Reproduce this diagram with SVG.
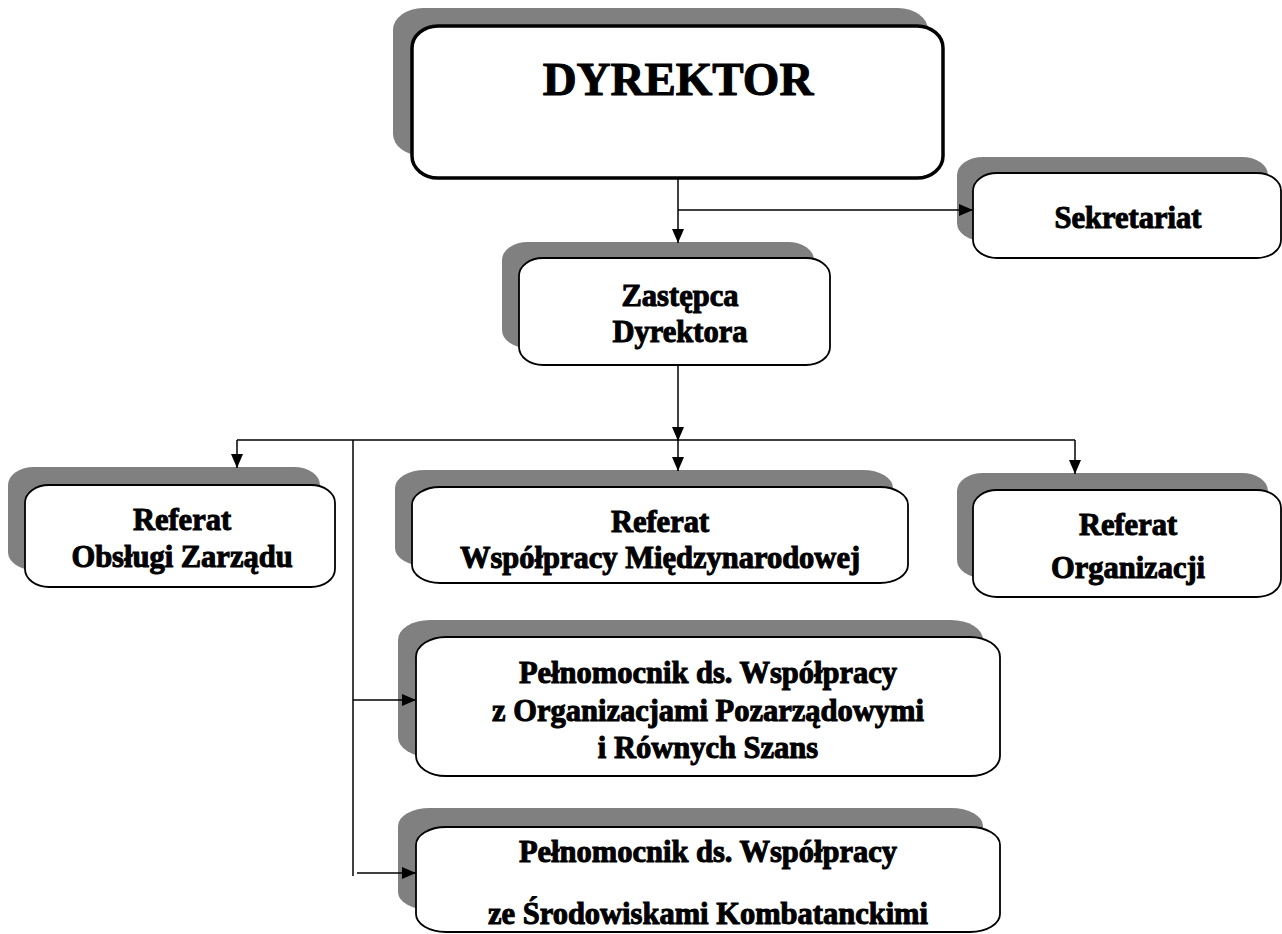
<svg xmlns="http://www.w3.org/2000/svg" width="1282" height="934" viewBox="0 0 1282 934">
<style>
.sh{fill:#808080;stroke:none}
.bx{fill:#fff;stroke:#000;stroke-width:1.8}
.t{font-family:"Liberation Serif","Times New Roman",serif;font-weight:bold;font-size:30.5px;fill:#000;stroke:#000;stroke-width:1;text-anchor:middle}
.c{fill:none;stroke:#000;stroke-width:1.5}
</style>
<defs>
<marker id="ar" markerUnits="userSpaceOnUse" markerWidth="14" markerHeight="12" refX="14" refY="6" orient="auto">
<path d="M0,0 L14,6 L0,12 Z" fill="#000"/>
</marker>
</defs>
<rect width="1282" height="934" fill="#fff"/>
<g id="dyrektor">
<rect class="sh" x="393" y="8" width="535" height="148" rx="30" ry="22"/>
<rect class="bx" x="412" y="26" width="531" height="152" rx="26" ry="22" style="stroke-width:3.5"/>
<text class="t" x="678" y="95" style="font-size:47px">DYREKTOR</text>
</g>
<g id="sekretariat">
<rect class="sh" x="957" y="157" width="311" height="84" rx="26" ry="18"/>
<rect class="bx" x="973" y="173" width="308" height="85" rx="24" ry="18"/>
<text class="t" x="1128" y="228">Sekretariat</text>
</g>
<g id="zastepca">
<rect class="sh" x="502" y="242" width="312" height="106" rx="26" ry="18"/>
<rect class="bx" x="519" y="258" width="311" height="107" rx="24" ry="18"/>
<text class="t" x="680" y="306">Zastępca</text>
<text class="t" x="680" y="342">Dyrektora</text>
</g>
<g id="referat-obslugi">
<rect class="sh" x="8" y="467" width="312" height="103" rx="26" ry="18"/>
<rect class="bx" x="25" y="485" width="310" height="102" rx="24" ry="18"/>
<text class="t" x="182" y="530">Referat</text>
<text class="t" x="182" y="567">Obsługi Zarządu</text>
</g>
<g id="referat-wspolpracy">
<rect class="sh" x="395" y="470" width="498" height="96" rx="30" ry="18"/>
<rect class="bx" x="412" y="487" width="496" height="96" rx="28" ry="18"/>
<text class="t" x="660" y="532">Referat</text>
<text class="t" x="660" y="568">Współpracy Międzynarodowej</text>
</g>
<g id="referat-organizacji">
<rect class="sh" x="957" y="473" width="311" height="105" rx="26" ry="18"/>
<rect class="bx" x="973" y="490" width="308" height="107" rx="24" ry="18"/>
<text class="t" x="1128" y="535">Referat</text>
<text class="t" x="1128" y="578">Organizacji</text>
</g>
<g id="pelnomocnik-organizacje">
<rect class="sh" x="398" y="620" width="585" height="137" rx="32" ry="20"/>
<rect class="bx" x="416" y="637" width="584" height="139" rx="30" ry="20"/>
<text class="t" x="708" y="683">Pełnomocnik ds. Współpracy</text>
<text class="t" x="708" y="721">z Organizacjami Pozarządowymi</text>
<text class="t" x="708" y="758">i Równych Szans</text>
</g>
<g id="pelnomocnik-kombatanci">
<rect class="sh" x="398" y="808" width="585" height="102" rx="32" ry="18"/>
<rect class="bx" x="416" y="827" width="584" height="105" rx="30" ry="18"/>
<text class="t" x="708" y="862">Pełnomocnik ds. Współpracy</text>
<text class="t" x="708" y="924">ze Środowiskami Kombatanckimi</text>
</g>
<g id="connectors">
<path class="c" d="M678,178 V243" marker-end="url(#ar)"/>
<path class="c" d="M678,210 H973" marker-end="url(#ar)"/>
<path class="c" d="M678,365 V441" marker-end="url(#ar)"/>
<path class="c" d="M237,440 H1075"/>
<path class="c" d="M237,440 V468" marker-end="url(#ar)"/>
<path class="c" d="M678,440 V471" marker-end="url(#ar)"/>
<path class="c" d="M1075,440 V474" marker-end="url(#ar)"/>
<path class="c" d="M353,440 V876"/>
<path class="c" d="M353,700 H416" marker-end="url(#ar)"/>
<path class="c" d="M357,873 H416" marker-end="url(#ar)"/>
</g>
</svg>
